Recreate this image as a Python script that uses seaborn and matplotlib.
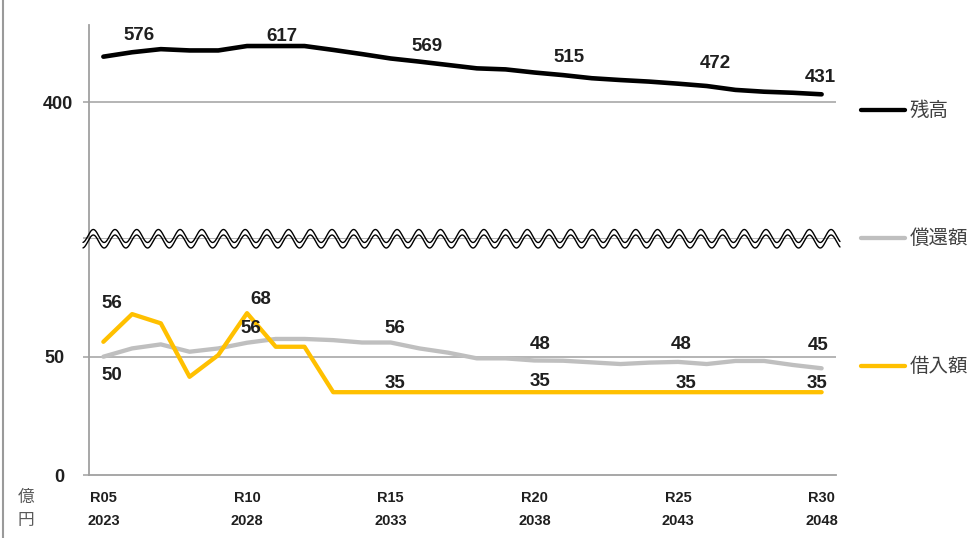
import numpy as np
import pandas as pd
import matplotlib
matplotlib.use("Agg")
import matplotlib.pyplot as plt
from matplotlib.lines import Line2D
import seaborn as sns

# ---------------- data ----------------
years = list(range(2023, 2049))
reiwa = [f"R{y - 2018:02d}" for y in years]
balance = [576, 593, 605, 600, 600, 617, 617, 617, 602, 586, 569, 557, 544,
           531, 527, 515, 505, 493, 486, 480, 472, 463, 448, 441, 437, 431]
repayment = [50, 53.5, 55.2, 52.1, 53.5, 55.9, 57.5, 57.5, 57, 56, 56, 53.5, 51.7,
             49.3, 49.3, 48.4, 48.3, 47.6, 46.9, 47.5, 47.8, 46.9, 48.2, 48.2, 46.5, 45.1]
borrowing = [56.3, 68.0, 64.1, 41.5, 50.7, 68.4, 54.2, 54.2, 35, 35, 35, 35, 35,
             35, 35, 35, 35, 35, 35, 35, 35, 35, 35, 35, 35, 35]
series_names = ["残高", "償還額", "借入額"]
label_idx = [0, 5, 10, 15, 20, 25]
xtick_idx = [0, 5, 10, 15, 20, 25]

df = pd.DataFrame({"i": range(len(years)), "残高": balance,
                   "償還額": repayment, "借入額": borrowing})

# ---------------- style ----------------
sns.set_theme(style="white")
plt.rcParams["font.family"] = ["Liberation Sans", "Noto Sans CJK JP", "DejaVu Sans"]
CJK = ["Noto Sans CJK JP", "DejaVu Sans"]
colors = {"残高": "#000000", "償還額": "#BFBFBF", "借入額": "#FFC000"}
AXC = "#A0A0A0"
TXT = "#1F1F1F"

W, H = 974, 538
fig = plt.figure(figsize=(W / 100, H / 100), dpi=100)
fx = lambda p: p / W
fy = lambda p: 1 - p / H

L, R, TOP, BRK, BOT = 89, 836, 25, 238.4, 475
ax_b = fig.add_axes([fx(L), fy(BOT), (R - L) / W, (BOT - BRK) / H])
ax_t = fig.add_axes([fx(L), fy(BRK), (R - L) / W, (BRK - TOP) / H])

for ax in (ax_b, ax_t):
    ax.set_xlim(-0.5, len(years) - 0.5)
    for s in ("top", "right"):
        ax.spines[s].set_visible(False)
    ax.spines["left"].set_color(AXC)
    ax.spines["left"].set_linewidth(1.3)
    ax.patch.set_alpha(0)

# bottom axes (0-100)
ax_b.set_ylim(0, 100)
ax_b.spines["bottom"].set_color(AXC)
ax_b.spines["bottom"].set_linewidth(1.3)
for yv in (50, 100):
    ax_b.axhline(yv, color=AXC, lw=1.1, zorder=0.5)

# top axes (balance)
ax_t.set_ylim(-124, 698)
ax_t.spines["bottom"].set_visible(False)
ax_t.axhline(400, color=AXC, lw=1.1, zorder=0.5)

lw = 3.1
sns.lineplot(data=df, x="i", y="残高", ax=ax_t, color=colors["残高"], lw=lw + 0.2,
             solid_capstyle="round", solid_joinstyle="round", zorder=3)
sns.lineplot(data=df, x="i", y="償還額", ax=ax_b, color=colors["償還額"], lw=lw,
             solid_capstyle="round", solid_joinstyle="round", zorder=2)
sns.lineplot(data=df, x="i", y="借入額", ax=ax_b, color=colors["借入額"], lw=lw,
             solid_capstyle="round", solid_joinstyle="round", zorder=3)
for ax in (ax_b, ax_t):
    ax.set_xlabel("")
    ax.set_ylabel("")

# ticks
ax_b.set_yticks([0, 50, 100])
ax_b.set_yticklabels(["0", "50", ""])
ax_b.tick_params(axis="y", length=4.3, width=1.1, color=AXC, pad=13.5,
                 labelsize=13, labelcolor=TXT, left=True)
ax_t.set_yticks([400])
ax_t.set_yticklabels(["400"])
ax_t.tick_params(axis="y", length=4.3, width=1.1, color=AXC, pad=7,
                 labelsize=13, labelcolor=TXT, left=True)
for lab in ax_b.get_yticklabels() + ax_t.get_yticklabels():
    lab.set_fontweight("bold")

ax_t.set_xticks([])
ax_b.set_xticks(xtick_idx)
ax_b.set_xticklabels([f"{reiwa[i]}\n{years[i]}" for i in xtick_idx],
                     fontsize=10.5, fontweight="bold", color=TXT, linespacing=1.8)
ax_b.tick_params(axis="x", length=0, pad=11.5)

# data labels
bal_off = [(36, 21), (35, 10), (36, 11.6), (35, 14.6), (37, 20), (-1, 16.5)]
bor_off = [(8, 38), (14, 14), (4, 9), (6, 10.6), (8, 9), (-5, 9)]
rep_off = [(8, -19), (4, 14), (4, 14), (6, 16), (3, 17), (-4, 23)]
lab_kw = dict(textcoords="offset pixels", ha="center", va="center",
              fontsize=13.5, fontweight="bold", color=TXT, zorder=5)
for k, i in enumerate(label_idx):
    ax_t.annotate(f"{balance[i]:.0f}", (i, balance[i]), xytext=bal_off[k], **lab_kw)
    ax_b.annotate(f"{borrowing[i]:.0f}", (i, borrowing[i]), xytext=bor_off[k],
                  annotation_clip=False, **lab_kw)
    ax_b.annotate(f"{repayment[i]:.0f}", (i, repayment[i]), xytext=rep_off[k],
                  annotation_clip=False, **lab_kw)

# wavy break marks
xs = np.linspace(83, 840, 2000)
for c in (236.0, 241.5):
    ys = c - 6.5 * np.cos(2 * np.pi * (xs - 93.3) / 21.7)
    fig.add_artist(Line2D(fx(xs), fy(ys), transform=fig.transFigure,
                          color="black", lw=1.0, zorder=10))

# legend (right side, next to series)
leg_y = [110, 238, 366]
for name, yy in zip(series_names, leg_y):
    fig.add_artist(Line2D([fx(861), fx(905)], [fy(yy), fy(yy)],
                          transform=fig.transFigure, color=colors[name],
                          lw=lw, solid_capstyle="round"))
    fig.text(fx(910), fy(yy), name, family=CJK, fontsize=14,
             color="#404040", va="center", ha="left")

# unit label
fig.text(fx(26), fy(497), "億", family=CJK, fontsize=12, color="#595959",
         ha="center", va="center")
fig.text(fx(26), fy(520), "円", family=CJK, fontsize=12, color="#595959",
         ha="center", va="center")

# left frame line
fig.add_artist(Line2D([fx(3.3), fx(3.3)], [0, 1], transform=fig.transFigure,
                      color="#9A9A9A", lw=1.5))

fig.savefig("out.png", dpi=100)
